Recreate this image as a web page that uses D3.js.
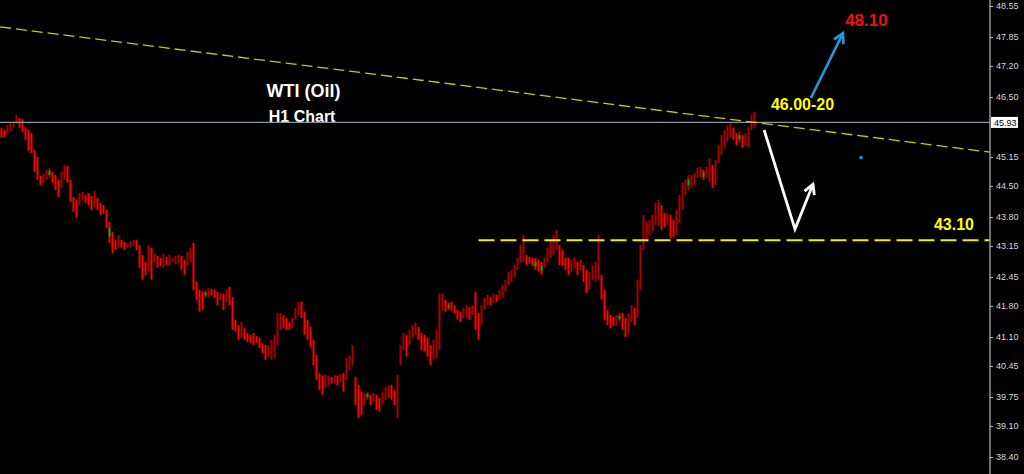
<!DOCTYPE html>
<html><head><meta charset="utf-8">
<script src="https://cdn.jsdelivr.net/npm/d3@7/dist/d3.min.js"></script>
<style>html,body{margin:0;padding:0;background:#000;overflow:hidden}svg{display:block}</style>
</head><body>
<script>
// ---- data ----
const highs = [
45.81,45.76,45.87,45.94,45.96,46.10,46.03,46.01,45.81,45.76,
45.69,45.31,45.15,44.73,44.77,44.86,44.91,44.82,44.75,44.64,
44.82,44.97,44.95,44.64,44.25,44.19,44.34,44.37,44.30,44.34,
44.28,44.39,44.23,44.12,44.07,43.96,43.69,43.47,43.29,43.40,
43.29,43.24,43.22,43.26,43.29,43.29,43.17,42.95,42.79,43.17,
43.11,42.99,42.93,42.88,42.97,42.90,42.95,42.88,42.93,42.95,
42.93,42.84,43.02,43.11,43.22,42.34,42.16,42.12,42.16,42.21,
42.18,42.16,42.12,42.09,42.07,42.16,42.23,42.00,41.49,41.37,
41.44,41.30,41.19,41.15,41.19,41.12,41.08,40.97,40.92,40.92,
41.04,41.15,41.64,41.64,41.60,41.53,41.44,41.53,41.76,41.89,
41.89,41.67,41.49,41.33,41.04,40.70,40.29,40.23,40.25,40.23,
40.20,40.25,40.23,40.27,40.29,40.63,40.68,40.92,40.20,40.02,
39.87,39.84,39.87,39.80,39.84,39.80,39.73,39.87,39.96,40.00,
40.02,39.91,40.25,40.92,41.19,41.15,41.26,41.37,41.42,41.33,
41.19,41.15,41.08,40.92,41.04,41.26,42.09,42.09,41.94,41.87,
41.89,41.82,41.71,41.67,41.76,41.82,41.78,41.82,42.12,41.64,
41.82,41.98,42.05,42.00,42.09,42.05,42.16,42.27,42.39,42.57,
42.61,42.72,42.88,43.17,43.40,42.95,42.90,42.88,42.88,42.84,
42.79,42.88,43.11,43.29,43.40,43.51,43.17,43.06,42.88,42.88,
42.84,42.88,42.79,42.84,42.72,42.61,42.57,42.72,42.79,43.40,
42.50,42.16,41.71,41.60,41.55,41.60,41.64,41.64,41.53,41.64,
41.82,41.76,42.39,43.17,43.85,43.69,43.74,43.85,44.12,44.19,
44.07,43.89,43.89,43.85,43.74,43.96,44.30,44.57,44.64,44.75,
44.75,44.79,44.91,44.93,44.86,44.93,45.13,44.97,45.09,45.42,
45.65,45.76,45.87,45.92,45.81,45.69,45.72,45.65,45.69,45.83,46.10,46.17];
const lows = [
45.58,45.60,45.69,45.74,45.83,45.90,45.81,45.72,45.54,45.29,
45.24,44.82,44.64,44.52,44.57,44.64,44.68,44.57,44.41,44.25,
44.46,44.64,44.57,44.14,43.92,43.78,44.07,44.19,44.12,44.07,
43.96,44.03,43.96,43.85,43.87,43.56,43.22,42.99,43.06,43.11,
43.11,43.06,43.11,43.13,43.15,43.06,42.66,42.39,42.50,42.57,
42.39,42.79,42.66,42.70,42.66,42.72,42.70,42.79,42.75,42.77,
42.61,42.50,42.70,42.79,42.16,41.94,41.67,41.71,41.98,42.00,
42.03,41.98,41.82,41.94,41.71,41.89,41.82,41.26,41.22,41.04,
41.08,41.04,40.99,40.97,40.92,40.97,40.85,40.74,40.59,40.66,
40.59,40.63,40.92,41.26,41.30,41.26,41.26,41.30,41.49,41.60,
41.53,41.15,41.04,40.88,40.47,40.14,39.91,39.80,39.96,40.02,
40.05,40.07,40.02,40.09,39.87,40.14,40.36,40.47,39.57,39.28,
39.35,39.57,39.69,39.57,39.64,39.46,39.42,39.62,39.69,39.73,
39.69,39.57,39.28,40.47,40.81,40.66,40.92,41.08,41.15,41.04,
40.81,40.77,40.66,40.47,40.59,40.63,40.81,41.71,41.67,41.71,
41.69,41.64,41.49,41.44,41.53,41.53,41.49,41.60,41.26,41.04,
41.37,41.71,41.82,41.82,41.87,41.89,41.94,41.98,42.12,42.27,
42.34,42.45,42.61,42.77,42.79,42.72,42.75,42.70,42.61,42.57,
42.50,42.66,42.77,42.88,42.95,43.06,42.72,42.72,42.61,42.50,
42.57,42.66,42.50,42.61,42.34,42.09,42.16,42.39,42.34,42.39,
41.94,41.49,41.37,41.30,41.35,41.37,41.44,41.26,41.10,41.19,
41.44,41.37,41.53,42.16,43.06,43.29,43.40,43.47,43.62,43.62,
43.51,43.58,43.62,43.33,43.35,43.40,43.67,43.96,44.30,44.41,
44.46,44.52,44.68,44.70,44.64,44.68,44.59,44.46,44.52,45.02,
45.20,45.36,45.49,45.58,45.54,45.42,45.47,45.36,45.40,45.36,45.76,45.81];
const greenBars = [16,36,68,122,149,178,180,206,229,234,246];
const tickValues = [48.55,47.85,47.20,46.50,45.15,44.50,43.80,43.15,42.45,41.80,41.10,40.45,39.75,39.10,38.40];
const currentPrice = 45.93;
const trendLine = [{i:-0.5, p:48.08},{i:329.5, p:45.26}];
const supportLine = [{i:159, p:43.28},{i:329.5, p:43.28}];
const blueArrow = [{i:269.8, p:46.48},{i:280.5, p:47.94}];
const whiteArrow = [{i:254.2, p:45.76},{i:264.5, p:43.53},{i:270.5, p:44.54}];
const blueDot = {i:286.5, p:45.15};
const labels = [
  {text:"WTI (Oil)", i:100.7, p:46.50, color:"#ffffff", size:18},
  {text:"H1 Chart", i:100.2, p:45.95, color:"#ffffff", size:16},
  {text:"46.00-20", i:267.0, p:46.20, color:"#ffff00", size:16},
  {text:"48.10", i:288.3, p:48.10, color:"#ee1111", size:17},
  {text:"43.10", i:317.5, p:43.50, color:"#ffff00", size:16}
];

// ---- chart ----
const W = 1024, H = 474, axisX = 990;
const svg = d3.select("body").append("svg").attr("width", W).attr("height", H)
  .style("background", "#000");
const x = d3.scaleLinear().domain([-0.5, 329.5]).range([0, axisX]);
const y = d3.scaleLinear().domain([38.40, 48.55]).range([457, 6]);
const font = "'Liberation Sans', Arial, sans-serif";

const bars = highs.map((h, i) => ({i, h, l: lows[i]}));
const bg = svg.append("g");
bg.selectAll("rect.bar").data(bars).join("rect").attr("class", "bar")
  .attr("x", d => x(d.i) - 1)
  .attr("width", 2)
  .attr("y", d => y(d.h))
  .attr("height", d => Math.max(1, y(d.l) - y(d.h)))
  .attr("fill", d => {
    if (d.i === 0) return "#ff0000";
    const prev = (highs[d.i-1] + lows[d.i-1]) / 2, mid = (d.h + d.l) / 2;
    return mid > prev ? "#a80000" : "#ff0000";
  });
// small green bodies
bg.selectAll("rect.green").data(bars.filter(d => greenBars.includes(d.i))).join("rect").attr("class", "green")
  .attr("x", d => x(d.i) - 1)
  .attr("width", 2)
  .attr("y", d => y(d.h) + (y(d.l) - y(d.h)) * 0.3)
  .attr("height", d => Math.max(2, (y(d.l) - y(d.h)) * 0.4))
  .attr("fill", "#00b000");

// titles
svg.append("g").selectAll("text").data(labels).join("text")
  .attr("x", d => x(d.i)).attr("y", d => y(d.p))
  .attr("text-anchor", "middle")
  .attr("font-family", font).attr("font-weight", "bold")
  .attr("font-size", d => d.size).attr("fill", d => d.color)
  .text(d => d.text);

// current price line
svg.append("line").attr("x1", 0).attr("x2", axisX)
  .attr("y1", y(currentPrice)).attr("y2", y(currentPrice))
  .attr("stroke", "#8896a4").attr("stroke-width", 1.2);

const line = d3.line().x(d => x(d.i)).y(d => y(d.p));
svg.append("path").attr("d", line(trendLine)).attr("fill", "none")
  .attr("stroke", "#cccc00").attr("stroke-width", 1.3).attr("stroke-dasharray", "11,5");
svg.append("path").attr("d", line(supportLine)).attr("fill", "none")
  .attr("stroke", "#f0f000").attr("stroke-width", 2).attr("stroke-dasharray", "16,6");

function arrow(pts, color, w) {
  svg.append("path").attr("d", line(pts)).attr("fill", "none")
    .attr("stroke", color).attr("stroke-width", w).attr("stroke-linejoin", "miter");
  const a = pts[pts.length - 2], b = pts[pts.length - 1];
  const x1 = x(a.i), y1 = y(a.p), x2 = x(b.i), y2 = y(b.p);
  const ang = Math.atan2(y2 - y1, x2 - x1), L = 11, spread = 0.5;
  const p1 = [x2 - L * Math.cos(ang - spread), y2 - L * Math.sin(ang - spread)];
  const p2 = [x2 - L * Math.cos(ang + spread), y2 - L * Math.sin(ang + spread)];
  svg.append("path").attr("d", `M${p1[0]},${p1[1]}L${x2},${y2}L${p2[0]},${p2[1]}`)
    .attr("fill", "none").attr("stroke", color).attr("stroke-width", w);
}
arrow(blueArrow, "#1e9be0", 2.6);
arrow(whiteArrow, "#ffffff", 2.8);

svg.append("rect").attr("x", x(blueDot.i) - 1.5).attr("y", y(blueDot.p) - 1)
  .attr("width", 3).attr("height", 3).attr("fill", "#1e9be0");

// right axis
svg.append("line").attr("x1", axisX).attr("x2", axisX).attr("y1", 0).attr("y2", H)
  .attr("stroke", "#8c8c8c").attr("stroke-width", 1.6);
const axis = d3.axisRight(y).tickValues(tickValues).tickSize(3).tickPadding(3)
  .tickFormat(d3.format(".2f"));
const ag = svg.append("g").attr("transform", `translate(${axisX},0)`).call(axis);
ag.select(".domain").remove();
ag.selectAll("line").attr("stroke", "#bbbbbb");
ag.selectAll("text").attr("fill", "#d8d8d8").attr("font-family", font).attr("font-size", 9);

// price label
const pg = svg.append("g").attr("transform", `translate(${axisX + 1},${y(currentPrice)})`);
pg.append("rect").attr("x", 0).attr("y", -5.5).attr("width", 27).attr("height", 11).attr("fill", "#ffffff");
pg.append("text").attr("x", 3).attr("y", 3.5).attr("font-family", font).attr("font-size", 9)
  .attr("fill", "#000").text(d3.format(".2f")(currentPrice));
</script>
</body></html>
